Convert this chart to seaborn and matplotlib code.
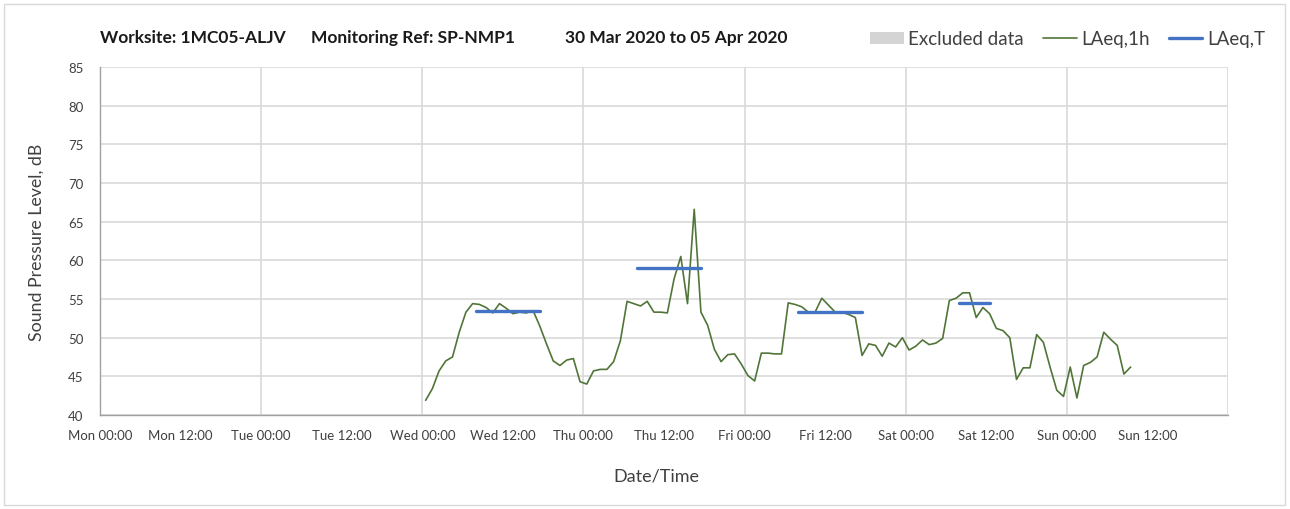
import pandas as pd
import matplotlib
matplotlib.use("Agg")
import matplotlib.pyplot as plt
import matplotlib.dates as mdates
from matplotlib.patches import Patch, Rectangle
from matplotlib.lines import Line2D
import seaborn as sns

# hourly LAeq,1h values, first reading Wed 01 Apr 2020 00:30
start_time = "2020-04-01 00:30"
laeq_1h = [
    # Wed
    41.9, 43.4, 45.7, 47.0, 47.5, 50.7, 53.3, 54.4, 54.3, 53.9, 53.2, 54.4,
    53.8, 53.1, 53.3, 53.2, 53.5, 51.5, 49.2, 47.0, 46.4, 47.1, 47.3, 44.3,
    # Thu
    44.0, 45.7, 45.9, 45.9, 46.9, 49.6, 54.7, 54.4, 54.1, 54.7, 53.3, 53.3,
    53.2, 57.6, 60.5, 54.4, 66.6, 53.3, 51.6, 48.5, 46.9, 47.8, 47.9, 46.6,
    # Fri
    45.1, 44.4, 48.0, 48.0, 47.9, 47.9, 54.5, 54.3, 54.0, 53.3, 53.3, 55.1,
    54.2, 53.3, 53.3, 53.0, 52.6, 47.7, 49.2, 49.0, 47.6, 49.3, 48.8, 50.0,
    # Sat
    48.4, 48.9, 49.7, 49.1, 49.3, 49.9, 54.8, 55.1, 55.8, 55.8, 52.6, 53.9,
    53.1, 51.2, 50.9, 50.0, 44.6, 46.1, 46.1, 50.4, 49.4, 46.2, 43.2, 42.4,
    # Sun
    46.2, 42.2, 46.4, 46.8, 47.5, 50.7, 49.8, 49.0, 45.3, 46.2,
]

# LAeq,T over the working periods
period_start = ["2020-04-01 08:00", "2020-04-02 08:00", "2020-04-03 08:00", "2020-04-04 08:00"]
period_end = ["2020-04-01 17:30", "2020-04-02 17:30", "2020-04-03 17:30", "2020-04-04 12:30"]
laeq_t = [53.4, 59.0, 53.3, 54.5]

title_parts = ["Worksite: 1MC05-ALJV", "Monitoring Ref: SP-NMP1", "30 Mar 2020 to 05 Apr 2020"]
x_start = "2020-03-30 00:00"
x_end = "2020-04-06 00:00"

green = "#517538"
blue = "#4472c4"
grid_c = "#d9d9d9"
text_c = "#404040"

df = pd.DataFrame({
    "time": pd.date_range(start_time, periods=len(laeq_1h), freq="h"),
    "level": laeq_1h,
})

seg_rows = []
for i, (s, e, v) in enumerate(zip(period_start, period_end, laeq_t)):
    seg_rows.append({"time": pd.Timestamp(s), "level": v, "period": i})
    seg_rows.append({"time": pd.Timestamp(e), "level": v, "period": i})
seg = pd.DataFrame(seg_rows)

sns.set_theme(style="white")
plt.rcParams["font.family"] = ["Lato", "DejaVu Sans"]

fig = plt.figure(figsize=(12.9, 5.1), dpi=100)
ax = fig.add_axes([100 / 1290, 1 - 416 / 510, 1128 / 1290, 348 / 510])

sns.lineplot(data=df, x="time", y="level", color=green, linewidth=1.2, ax=ax)
sns.lineplot(data=seg, x="time", y="level", units="period", estimator=None,
             color=blue, linewidth=2.4, ax=ax)

ax.set_xlim(pd.Timestamp(x_start), pd.Timestamp(x_end))
ax.set_ylim(40, 85)
ax.set_yticks(range(40, 86, 5))

ax.xaxis.set_major_locator(mdates.DayLocator())
ax.xaxis.set_minor_locator(mdates.HourLocator(byhour=[12]))
end_num = mdates.date2num(pd.Timestamp(x_end))


def fmt_major(x, pos=None):
    if abs(x - end_num) < 1e-6:
        return ""
    return mdates.num2date(x).strftime("%a %H:%M")


ax.xaxis.set_major_formatter(plt.FuncFormatter(fmt_major))
ax.xaxis.set_minor_formatter(mdates.DateFormatter("%a %H:%M"))

ax.grid(axis="y", color=grid_c, linewidth=1.2)
ax.grid(axis="x", which="major", color=grid_c, linewidth=1.2)
for s in ["top", "right"]:
    ax.spines[s].set_visible(False)
for s in ["left", "bottom"]:
    ax.spines[s].set_color("#a0a0a0")
    ax.spines[s].set_linewidth(1.0)

ax.tick_params(axis="both", which="both", direction="out", length=4, width=1,
               color="#a0a0a0", labelsize=9.5, labelcolor=text_c, pad=6)
ax.tick_params(axis="y", length=6)

ax.set_xlabel("Date/Time", fontsize=13, color=text_c)
ax.xaxis.set_label_coords((656 - 100) / 1128, -(469 - 416) / 348)
ax.set_ylabel("Sound Pressure Level, dB", fontsize=12.8, color=text_c)
ax.yaxis.set_label_coords(-(100 - 45) / 1128, 0.5)

# title pieces
for xp, txt in zip([100, 311, 565], title_parts):
    fig.text(xp / 1290, 1 - 38 / 510, txt, fontsize=12.5, fontweight="bold",
             color="#1a1a1a", va="center", ha="left")

handles = [
    Patch(facecolor="#d4d4d4", edgecolor="none"),
    Line2D([], [], color=green, linewidth=1.2),
    Line2D([], [], color=blue, linewidth=2.4),
]
fig.legend(handles, ["Excluded data", "LAeq,1h", "LAeq,T"], loc="center right",
           bbox_to_anchor=(1282 / 1290, 1 - 40 / 510), ncol=3, frameon=False,
           fontsize=13.5, handlelength=1.8, handleheight=0.55, handletextpad=0.25,
           columnspacing=1.0, labelcolor=text_c)

fig.patches.append(Rectangle((4 / 1290, 4 / 510), 1 - 9 / 1290, 1 - 9 / 510,
                             transform=fig.transFigure, fill=False,
                             edgecolor="#d9d9d9", linewidth=1))

fig.savefig("out.png", dpi=100)
